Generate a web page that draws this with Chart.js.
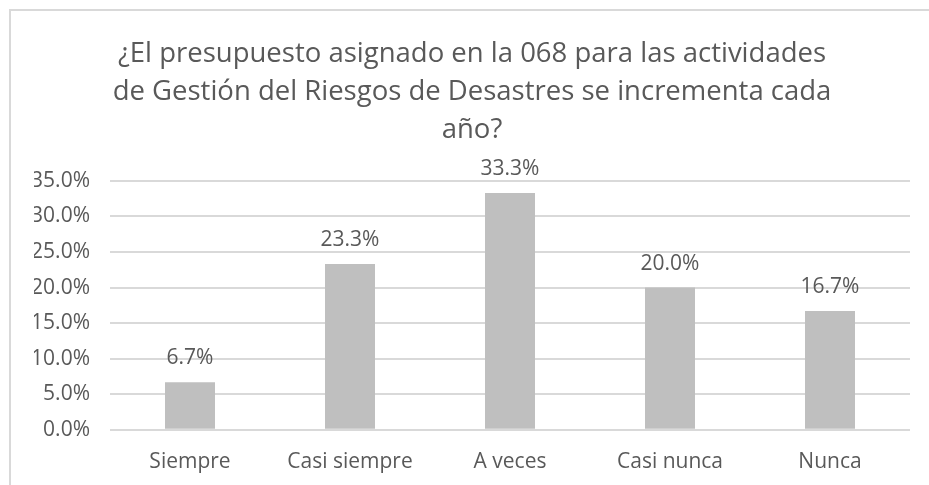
<!DOCTYPE html>
<html>
<head>
<meta charset="utf-8">
<script src="https://cdn.jsdelivr.net/npm/chart.js@4"></script>
<style>
  html, body { margin: 0; padding: 0; background: #fff; overflow: hidden; }
  #frame {
    position: absolute;
    left: 9px; top: 9px;
    width: 930px; height: 490px;
    border-left: 2px solid #D9D9D9;
    border-top: 2px solid #D9D9D9;
  }
  #wrap { position: absolute; left: 0; top: 0; width: 918px; height: 484px; }
</style>
</head>
<body>
<div id="frame"><div id="wrap"><canvas id="chart"></canvas></div></div>
<script>
const titleLines = [
  '¿El presupuesto asignado en la 068 para las actividades',
  'de Gestión del Riesgos de Desastres se incrementa cada',
  'año?'
];
const categories = ['Siempre', 'Casi siempre', 'A veces', 'Casi nunca', 'Nunca'];
const percentages = [0.067, 0.233, 0.333, 0.200, 0.167];
const yTicks = [0, 0.05, 0.10, 0.15, 0.20, 0.25, 0.30, 0.35];

const textColor = '#595959';
const fontFamily = '"Open Sans", sans-serif';

const pct = v => (v * 100).toFixed(1) + '%';

// draws the value above each bar
const barLabels = {
  id: 'barLabels',
  afterDatasetsDraw(chart) {
    const ctx = chart.ctx;
    ctx.save();
    ctx.fillStyle = textColor;
    ctx.font = '21px ' + fontFamily;
    ctx.textAlign = 'center';
    ctx.textBaseline = 'alphabetic';
    chart.getDatasetMeta(0).data.forEach((bar, i) => {
      ctx.fillText(pct(percentages[i]), bar.x, bar.y - 18);
    });
    ctx.restore();
  }
};

new Chart(document.getElementById('chart'), {
  type: 'bar',
  data: {
    labels: categories,
    datasets: [{
      data: percentages,
      backgroundColor: '#BFBFBF',
      categoryPercentage: 1,
      barPercentage: 0.3125
    }]
  },
  plugins: [barLabels],
  options: {
    responsive: true,
    maintainAspectRatio: false,
    animation: false,
    layout: { padding: { top: 0, right: 19, bottom: 0, left: 23 } },
    plugins: {
      legend: { display: false },
      tooltip: { enabled: false },
      title: {
        display: true,
        text: titleLines,
        color: textColor,
        font: { family: fontFamily, size: 27.5, weight: 'normal', lineHeight: 1.38 },
        padding: { top: 24, bottom: 32 }
      }
    },
    scales: {
      x: {
        grid: { display: false, drawTicks: false },
        border: { display: false },
        ticks: {
          color: textColor,
          font: { family: fontFamily, size: 21 },
          padding: 20
        }
      },
      y: {
        min: 0,
        max: 0.35,
        afterBuildTicks(axis) {
          axis.ticks = yTicks.map(v => ({ value: v }));
        },
        // narrower box so the title centres like the original; labels still fit
        afterFit(axis) {
          axis.width = 76;
        },
        grid: { color: '#D9D9D9', lineWidth: 2, drawTicks: false },
        border: { display: false },
        ticks: {
          color: textColor,
          font: { family: fontFamily, size: 21 },
          padding: 20,
          callback: v => pct(v)
        }
      }
    }
  }
});
</script>
</body>
</html>
